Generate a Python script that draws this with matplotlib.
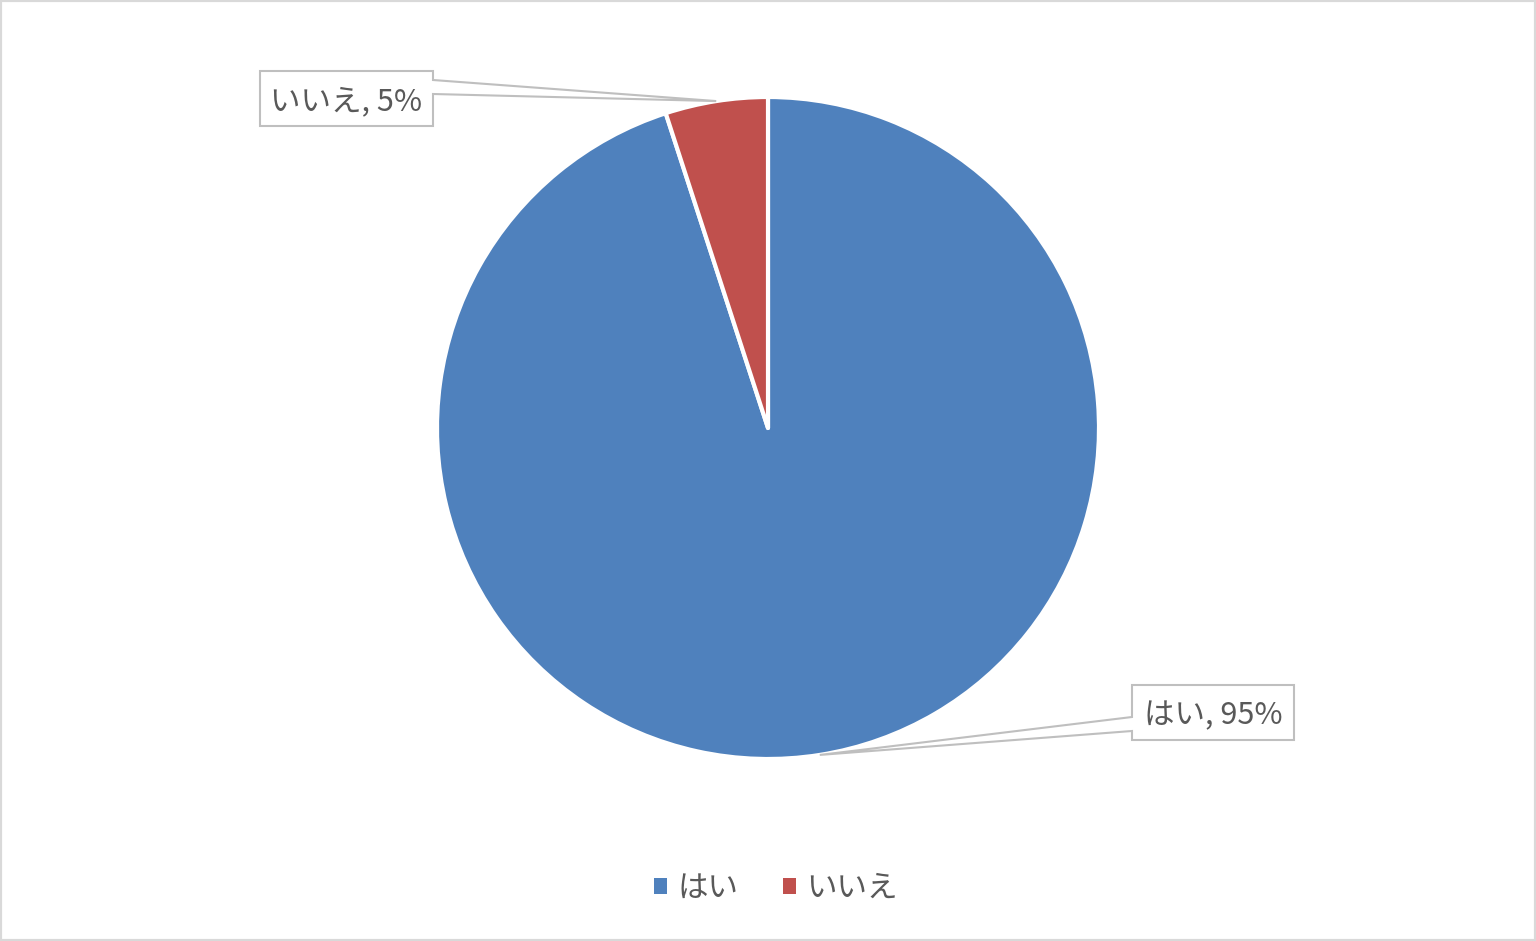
import matplotlib
matplotlib.use('Agg')
import matplotlib.pyplot as plt
import numpy as np
from matplotlib.patches import Polygon, Rectangle

plt.rcParams['font.family'] = ['Noto Sans CJK JP', 'DejaVu Sans']

labels = ['はい', 'いいえ']
values = [95, 5]
colors = ['#4F81BD', '#C0504D']
text_color = '#595959'

W, H = 1536, 941
fig = plt.figure(figsize=(W / 100, H / 100), dpi=100)
ax = fig.add_axes([0, 0, 1, 1])
cx, cy, R = 768, 428, 331

wedges, _ = ax.pie(values, colors=colors, startangle=90, counterclock=False,
                   radius=1, center=(0, 0),
                   wedgeprops=dict(edgecolor='white', linewidth=3, joinstyle='round'))
ax.set_xlim(-cx / R, (W - cx) / R)
ax.set_ylim(-(H - cy) / R, cy / R)
ax.set_aspect('equal', adjustable='datalim')
ax.set_position([0, 0, 1, 1])
ax.axis('off')


def px(x, y):
    return ((x - cx) / R, (cy - y) / R)


# callout layout (pixel boxes): x0, y0, x1, y1, side, base_y0, base_y1
callouts = {
    0: (1132, 685, 1294, 740, 'left', 717, 731),
    1: (260, 71, 433, 126, 'right', 80, 94),
}

for i, w in enumerate(wedges):
    x0, y0, x1, y1, side, b0, b1 = callouts[i]
    th = np.deg2rad((w.theta1 + w.theta2) / 2)
    tip = (np.cos(th), np.sin(th))
    if side == 'right':
        verts = [px(x0, y0), px(x1, y0), px(x1, b0), tip, px(x1, b1), px(x1, y1), px(x0, y1)]
    else:
        verts = [px(x0, y0), px(x1, y0), px(x1, y1), px(x0, y1), px(x0, b1), tip, px(x0, b0)]
    poly = Polygon(verts, closed=True, facecolor='white', edgecolor='#bfbfbf',
                   linewidth=1.5, zorder=5)
    ax.add_patch(poly)
    tx, ty = px((x0 + x1) / 2, (y0 + y1) / 2 + 3)
    ax.text(tx, ty, f'{labels[i]}, {values[i]}%', ha='center', va='center',
            fontsize=22, color=text_color, zorder=6)

leg = ax.legend(wedges, labels, loc='center', bbox_to_anchor=(0.5 + 8 / W, 1 - 888 / H),
                bbox_transform=fig.transFigure, ncol=2, frameon=False,
                fontsize=22, handlelength=0.42, handleheight=0.42,
                handletextpad=0.35, columnspacing=1.45)
for t in leg.get_texts():
    t.set_color(text_color)
for h in leg.legend_handles:
    h.set_edgecolor('none')

fig.patches.append(Rectangle((0, 0), 1, 1, transform=fig.transFigure, fill=False,
                             edgecolor='#d9d9d9', linewidth=3, zorder=10))

fig.savefig('out.png', dpi=100)
